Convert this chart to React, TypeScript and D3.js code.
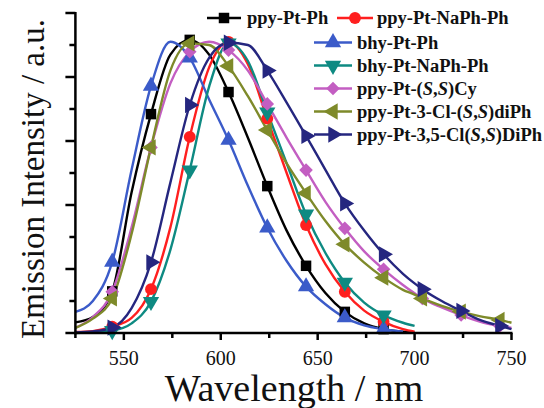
import React from 'react';
import * as d3 from 'd3';

const wavelengths = [525, 534, 544, 554, 564, 574, 584, 594, 604, 614, 624, 634, 644, 654, 664, 674, 684, 694, 700, 704, 714, 724, 734, 744, 750];
const markerWavelengths = [544, 564, 584, 604, 624, 644, 664, 684, 704, 724, 744];

const ppyPtPh = [0.033, 0.05, 0.13, 0.44, 0.684, 0.87, 0.916, 0.87, 0.753, 0.61, 0.459, 0.32, 0.21, 0.125, 0.066, 0.03, 0.012, 0.004, 0.001, null, null, null, null, null, null];
const ppyPtNaPhPh = [0.003, 0.006, 0.02, 0.047, 0.137, 0.33, 0.613, 0.83, 0.91, 0.84, 0.67, 0.5, 0.3375, 0.215, 0.129, 0.07, 0.035, 0.012, 0.004, null, null, null, null, null, null];
const bhyPtPh = [0.066, 0.1, 0.222, 0.51, 0.772, 0.91, 0.86, 0.73, 0.603, 0.46, 0.329, 0.225, 0.145, 0.09, 0.048, 0.024, 0.012, 0.004, null, null, null, null, null, null, null];
const bhyPtNaPhPh = [0.0, 0.002, 0.007, 0.03, 0.098, 0.26, 0.509, 0.77, 0.906, 0.85, 0.69, 0.53, 0.371, 0.25, 0.158, 0.095, 0.056, 0.032, 0.022, null, null, null, null, null, null];
const ppyPtSSCy = [0.016, 0.05, 0.129, 0.33, 0.58, 0.78, 0.879, 0.91, 0.884, 0.82, 0.716, 0.61, 0.509, 0.41, 0.327, 0.255, 0.199, 0.15, 0.124, 0.108, 0.08, 0.056, 0.035, 0.022, 0.016];
const ppyPt3ClDiPh = [0.016, 0.045, 0.108, 0.31, 0.58, 0.82, 0.905, 0.9, 0.834, 0.74, 0.634, 0.53, 0.437, 0.35, 0.277, 0.22, 0.173, 0.135, 0.12, 0.108, 0.085, 0.067, 0.052, 0.041, 0.032];
const ppyPt35ClDiPh = [0.002, 0.005, 0.017, 0.078, 0.221, 0.47, 0.7125, 0.86, 0.907, 0.9, 0.82, 0.72, 0.616, 0.51, 0.405, 0.32, 0.246, 0.185, 0.155, 0.137, 0.1, 0.069, 0.04, 0.022, 0.012];

const seriesNames = [
  'ppy-Pt-Ph',
  'ppy-Pt-NaPh-Ph',
  'bhy-Pt-Ph',
  'bhy-Pt-NaPh-Ph',
  'ppy-Pt-(*S*,*S*)Cy',
  'ppy-Pt-3-Cl-(*S*,*S*)diPh',
  'ppy-Pt-3,5-Cl(*S*,*S*)DiPh',
];
const seriesValues = [ppyPtPh, ppyPtNaPhPh, bhyPtPh, bhyPtNaPhPh, ppyPtSSCy, ppyPt3ClDiPh, ppyPt35ClDiPh];
const seriesColors = ['#000000', '#ff1f1f', '#3b5bc9', '#0e8a82', '#c35ec2', '#7e8a2a', '#25267f'];
const seriesSymbols = ['square', 'circle', 'up', 'down', 'diamond', 'left', 'right'];

const xTickValues = [550, 600, 650, 700, 750];
const xMinorTicks = [525, 575, 625, 675, 725];
const yMajorTicks = [0, 0.2, 0.4, 0.6, 0.8, 1.0];
const yMinorTicks = [0.1, 0.3, 0.5, 0.7, 0.9];

const W = 544;
const H = 408;
const plotLeft = 75.4;
const plotRight = 511.5;
const plotTop = 13;
const plotBottom = 333;

function symbolPath(kind: string): { d: string; rot: number } {
  const sq = d3.symbol().type(d3.symbolSquare).size(110)() as string;
  const circ = d3.symbol().type(d3.symbolCircle).size(110)() as string;
  const tri = d3.symbol().type(d3.symbolTriangle).size(115)() as string;
  const dia = d3.symbol().type(d3.symbolSquare).size(92)() as string;
  switch (kind) {
    case 'square': return { d: sq, rot: 0 };
    case 'circle': return { d: circ, rot: 0 };
    case 'up': return { d: tri, rot: 0 };
    case 'down': return { d: tri, rot: 180 };
    case 'diamond': return { d: dia, rot: 45 };
    case 'left': return { d: tri, rot: -90 };
    case 'right': return { d: tri, rot: 90 };
  }
  return { d: sq, rot: 0 };
}

function Label({ text, x, y }: { text: string; x: number; y: number }) {
  const parts = text.split('*');
  return (
    <text x={x} y={y} dy="0.34em" fontFamily="'Liberation Serif', 'Times New Roman', serif" fontWeight="bold" fontSize={18.5} fill="#111">
      {parts.map((p, i) => (
        <tspan key={i} fontStyle={i % 2 === 1 ? 'italic' : 'normal'}>{p}</tspan>
      ))}
    </text>
  );
}

export default function App() {
  const x = d3.scaleLinear().domain([525, 750]).range([plotLeft, plotRight]);
  const y = d3.scaleLinear().domain([0, 1]).range([plotBottom, plotTop]);

  const line = d3
    .line<[number, number | null]>()
    .defined((d) => d[1] !== null)
    .x((d) => x(d[0]))
    .y((d) => y(d[1] as number))
    .curve(d3.curveMonotoneX);

  const legendPos = [
    { lx1: 207, lx2: 241, mx: 224, tx: 247, y: 18 },
    { lx1: 337, lx2: 373, mx: 355, tx: 377, y: 18 },
    { lx1: 314, lx2: 352, mx: 333, tx: 357, y: 42.5 },
    { lx1: 314, lx2: 352, mx: 333, tx: 357, y: 65.5 },
    { lx1: 314, lx2: 352, mx: 333, tx: 357, y: 88.5 },
    { lx1: 314, lx2: 352, mx: 333, tx: 357, y: 111.5 },
    { lx1: 314, lx2: 352, mx: 333, tx: 357, y: 134.5 },
  ];

  const serif = "'Liberation Serif', 'Times New Roman', serif";

  return (
    <svg width={W} height={H} viewBox={`0 0 ${W} ${H}`} style={{ position: 'absolute', left: 0, top: 0, background: '#fff' }}>
      <rect x={0} y={0} width={W} height={H} fill="#fff" />
      {seriesValues.map((vals, si) => {
        const pts = wavelengths.map((w, i) => [w, vals[i]] as [number, number | null]);
        return (
          <path key={'l' + si} d={line(pts) || ''} fill="none" stroke={seriesColors[si]} strokeWidth={2.4} />
        );
      })}
      {seriesValues.map((vals, si) => {
        const s = symbolPath(seriesSymbols[si]);
        return (
          <g key={'m' + si} fill={seriesColors[si]}>
            {wavelengths.map((w, i) =>
              markerWavelengths.includes(w) && vals[i] !== null ? (
                <path key={i} d={s.d} transform={`translate(${x(w)},${y(vals[i] as number)}) rotate(${s.rot})`} />
              ) : null
            )}
          </g>
        );
      })}
      <g stroke="#000" strokeWidth={2.5} fill="none">
        <line x1={plotLeft} y1={plotTop - 1} x2={plotLeft} y2={plotBottom + 1.2} />
        <line x1={plotLeft - 1.2} y1={plotBottom} x2={plotRight + 1} y2={plotBottom} />
        {yMajorTicks.map((t) => (
          <line key={'ym' + t} x1={plotLeft - 10} x2={plotLeft} y1={y(t)} y2={y(t)} />
        ))}
        {yMinorTicks.map((t) => (
          <line key={'yn' + t} x1={plotLeft - 6} x2={plotLeft} y1={y(t)} y2={y(t)} />
        ))}
        {xTickValues.map((t) => (
          <line key={'xm' + t} x1={x(t)} x2={x(t)} y1={plotBottom} y2={plotBottom + 7} />
        ))}
        {xMinorTicks.map((t) => (
          <line key={'xn' + t} x1={x(t)} x2={x(t)} y1={plotBottom} y2={plotBottom + 5} />
        ))}
      </g>
      {xTickValues.map((t) => (
        <text key={'xl' + t} x={x(t)} y={365} textAnchor="middle" fontFamily={serif} fontSize={20} fill="#111">
          {t}
        </text>
      ))}
      <text x={294} y={401} textAnchor="middle" fontFamily={serif} fontSize={38} fill="#111">
        Wavelength / nm
      </text>
      <text transform="translate(44,179) rotate(-90)" textAnchor="middle" fontFamily={serif} fontSize={33} fill="#111">
        Emission Intensity / a.u.
      </text>
      {seriesNames.map((name, si) => {
        const p = legendPos[si];
        const s = symbolPath(seriesSymbols[si]);
        return (
          <g key={'lg' + si}>
            <line x1={p.lx1} x2={p.lx2} y1={p.y} y2={p.y} stroke={seriesColors[si]} strokeWidth={2.5} />
            <path d={s.d} fill={seriesColors[si]} transform={`translate(${p.mx},${p.y}) rotate(${s.rot})`} />
            <Label text={name} x={p.tx} y={p.y} />
          </g>
        );
      })}
    </svg>
  );
}
